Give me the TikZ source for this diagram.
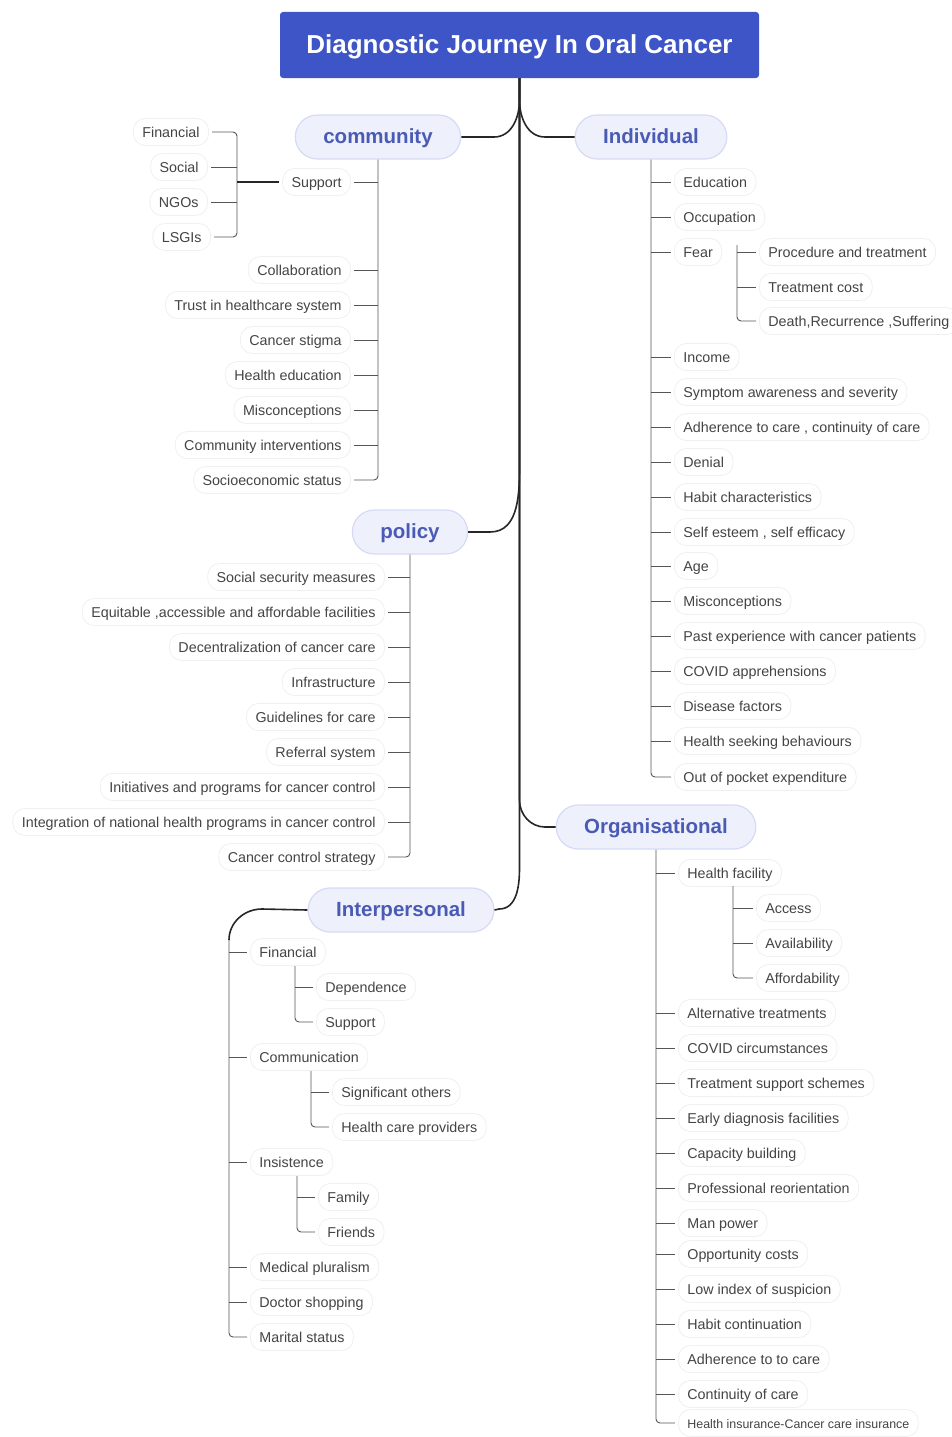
\documentclass[tikz,border=0pt]{standalone}
\usepackage{fontspec}
\newfontfamily\arialf{Liberation Sans}
\definecolor{titleblue}{HTML}{3D55C6}
\definecolor{mainfill}{HTML}{EEF0FC}
\definecolor{mainedge}{HTML}{D6DBF4}
\definecolor{maintext}{HTML}{4A5BB6}
\definecolor{leaftext}{HTML}{444444}
\definecolor{railgray}{HTML}{555555}
\definecolor{trunkgray}{HTML}{262626}
\tikzset{
  titlebox/.style={fill=titleblue, rounded corners=3pt, minimum height=66pt, minimum width=479pt,
    text=white, text height=20pt, text depth=4pt, font=\arialf\bfseries\fontsize{26}{30}\selectfont},
  mainbox/.style={fill=mainfill, draw=mainedge, line width=1.2pt, rounded corners=22pt,
    minimum height=44pt, inner xsep=28pt, text=maintext, text height=16pt, text depth=4pt,
    font=\arialf\bfseries\fontsize{20.5}{24}\selectfont},
  leaf/.style={fill=white, draw=black!6, line width=0.8pt, rounded corners=12pt,
    minimum height=27pt, inner xsep=9pt, text height=12.5pt, text depth=2.5pt,
    text=leaftext, font=\arialf\fontsize{14.3}{16}\selectfont},
  smallleaf/.style={leaf, font=\arialf\fontsize{12.4}{15}\selectfont},
  trunk/.style={draw=trunkgray, line width=1.6pt},
  rail/.style={draw=railgray, line width=0.9pt, rounded corners=4pt},
  tick/.style={draw=railgray, line width=0.9pt, shorten >=3pt},
}
\begin{document}
\begin{tikzpicture}[x=1pt,y=1pt]
\useasboundingbox (0,0) rectangle (952,-1437);

% root and the five main topics
\node[titlebox] (title) at (519.5,-45) {Diagnostic Journey In Oral Cancer};
\node[mainbox] (community) at (378,-137) {community};
\node[mainbox] (individual) at (651,-137) {Individual};
\node[mainbox] (policy) at (410,-532) {policy};
\node[mainbox] (organisational) at (656,-827) {Organisational};
\node[mainbox] (interpersonal) at (401,-910) {Interpersonal};

% trunk from the root to each main topic
\draw[trunk] (title.south) -- (519.5,-100) to[out=-90,in=0] (494,-137) -- (community.east);
\draw[trunk] (title.south) -- (519.5,-100) to[out=-90,in=180] (545,-137) -- (individual.west);
\draw[trunk] (title.south) -- (519.5,-462) to[out=-90,in=0] (490,-532) -- (policy.east);
\draw[trunk] (title.south) -- (519.5,-800) to[out=-90,in=180] (545,-827) -- (organisational.west);
\draw[trunk] (title.south) -- (519.5,-868) to[out=-90,in=0] (499,-909) -- (interpersonal.east);

% ---------- community ----------
\foreach \i/\yy/\t in {1/182/Support,2/270/Collaboration,3/305/Trust in healthcare system,
    4/340/Cancer stigma,5/375/Health education,6/410/Misconceptions,
    7/445/Community interventions,8/480/Socioeconomic status}
  \node[leaf,anchor=east] (com\i) at (351,-\yy) {\t};
\draw[rail,shorten >=3pt] (community.south) |- (com8.east);
\foreach \i in {1,...,7}
  \draw[tick] (com\i.east -| community.south) -- (com\i.east);

\node[leaf,anchor=east] (sfin) at (209,-132) {Financial};
\node[leaf,anchor=east] (ssoc) at (208,-167) {Social};
\node[leaf,anchor=east] (sngo) at (208,-202) {NGOs};
\node[leaf,anchor=east] (slsg) at (211,-237) {LSGIs};
\coordinate (supj) at (237,-182);
\draw[rail,shorten <=3pt,shorten >=3pt] (sfin.east) -| (supj) |- (slsg.east);
\draw[tick] (supj |- ssoc.east) -- (ssoc.east);
\draw[tick] (supj |- sngo.east) -- (sngo.east);
\draw[draw=trunkgray,line width=1.1pt,shorten >=3pt] (supj) -- (com1.west);

% ---------- individual ----------
\foreach \i/\yy/\t in {1/182/Education,2/217/Occupation,3/252/Fear,4/357/Income,
    5/392/Symptom awareness and severity,6/427/{Adherence to care , continuity of care},
    7/462/Denial,8/497/Habit characteristics,9/532/{Self esteem , self efficacy},
    10/566/Age,11/601/Misconceptions,12/636/Past experience with cancer patients,
    13/671/COVID apprehensions,14/706/Disease factors,15/741/Health seeking behaviours,
    16/777/Out of pocket expenditure}
  \node[leaf,anchor=west] (ind\i) at (674,-\yy) {\t};
\draw[rail,shorten >=3pt] (individual.south) |- (ind16.west);
\foreach \i in {1,...,15}
  \draw[tick] (ind\i.west -| individual.south) -- (ind\i.west);

\foreach \i/\yy/\t in {1/252/Procedure and treatment,2/287/Treatment cost,
    3/321/{Death,Recurrence ,Suffering}}
  \node[leaf,anchor=west] (fear\i) at (759,-\yy) {\t};
\coordinate (fearr) at (737,-245);
\draw[rail,shorten >=3pt] (fearr) |- (fear3.west);
\foreach \i in {1,2}
  \draw[tick] (fear\i.west -| fearr) -- (fear\i.west);

% ---------- policy ----------
\foreach \i/\yy/\t in {1/577/Social security measures,
    2/612/{Equitable ,accessible and affordable facilities},
    3/647/Decentralization of cancer care,4/682/Infrastructure,5/717/Guidelines for care,
    6/752/Referral system,7/787/Initiatives and programs for cancer control,
    8/822/Integration of national health programs in cancer control,
    9/857/Cancer control strategy}
  \node[leaf,anchor=east] (pol\i) at (385,-\yy) {\t};
\draw[rail,shorten >=3pt] (policy.south) |- (pol9.east);
\foreach \i in {1,...,8}
  \draw[tick] (pol\i.east -| policy.south) -- (pol\i.east);

% ---------- organisational ----------
\foreach \i/\yy/\t in {1/873/Health facility,2/1013/Alternative treatments,
    3/1048/COVID circumstances,4/1083/Treatment support schemes,
    5/1118/Early diagnosis facilities,6/1153/Capacity building,
    7/1188/Professional reorientation,8/1223/Man power,9/1254/Opportunity costs,
    10/1289/Low index of suspicion,11/1324/Habit continuation,
    12/1359/Adherence to to care,13/1394/Continuity of care}
  \node[leaf,anchor=west] (org\i) at (678,-\yy) {\t};
\node[smallleaf,anchor=west] (org14) at (678,-1423) {Health insurance-Cancer care insurance};
\draw[rail,shorten >=3pt] (organisational.south) |- (org14.west);
\foreach \i in {1,...,13}
  \draw[tick] (org\i.west -| organisational.south) -- (org\i.west);

\foreach \i/\yy/\t in {1/908/Access,2/943/Availability,3/978/Affordability}
  \node[leaf,anchor=west] (hf\i) at (756,-\yy) {\t};
\coordinate (hfr) at (733,-886);
\draw[rail,shorten >=3pt] (hfr) |- (hf3.west);
\foreach \i in {1,2}
  \draw[tick] (hf\i.west -| hfr) -- (hf\i.west);

% ---------- interpersonal ----------
\foreach \i/\yy/\t in {1/952/Financial,2/1057/Communication,3/1162/Insistence,
    4/1267/Medical pluralism,5/1302/Doctor shopping,6/1337/Marital status}
  \node[leaf,anchor=west] (ip\i) at (250,-\yy) {\t};
\coordinate (ipr) at (229,-940);
\draw[trunk] (interpersonal.west) -- (262,-909) to[out=180,in=90] (ipr);
\draw[rail,shorten >=3pt] (ipr) |- (ip6.west);
\foreach \i in {1,...,5}
  \draw[tick] (ip\i.west -| ipr) -- (ip\i.west);

\node[leaf,anchor=west] (ipf1) at (316,-987) {Dependence};
\node[leaf,anchor=west] (ipf2) at (316,-1022) {Support};
\coordinate (ipfr) at (295,-966);
\draw[rail,shorten >=3pt] (ipfr) |- (ipf2.west);
\draw[tick] (ipf1.west -| ipfr) -- (ipf1.west);

\node[leaf,anchor=west] (ipc1) at (332,-1092) {Significant others};
\node[leaf,anchor=west] (ipc2) at (332,-1127) {Health care providers};
\coordinate (ipcr) at (311,-1071);
\draw[rail,shorten >=3pt] (ipcr) |- (ipc2.west);
\draw[tick] (ipc1.west -| ipcr) -- (ipc1.west);

\node[leaf,anchor=west] (ipi1) at (318,-1197) {Family};
\node[leaf,anchor=west] (ipi2) at (318,-1232) {Friends};
\coordinate (ipir) at (297,-1176);
\draw[rail,shorten >=3pt] (ipir) |- (ipi2.west);
\draw[tick] (ipi1.west -| ipir) -- (ipi1.west);
\end{tikzpicture}
\end{document}
